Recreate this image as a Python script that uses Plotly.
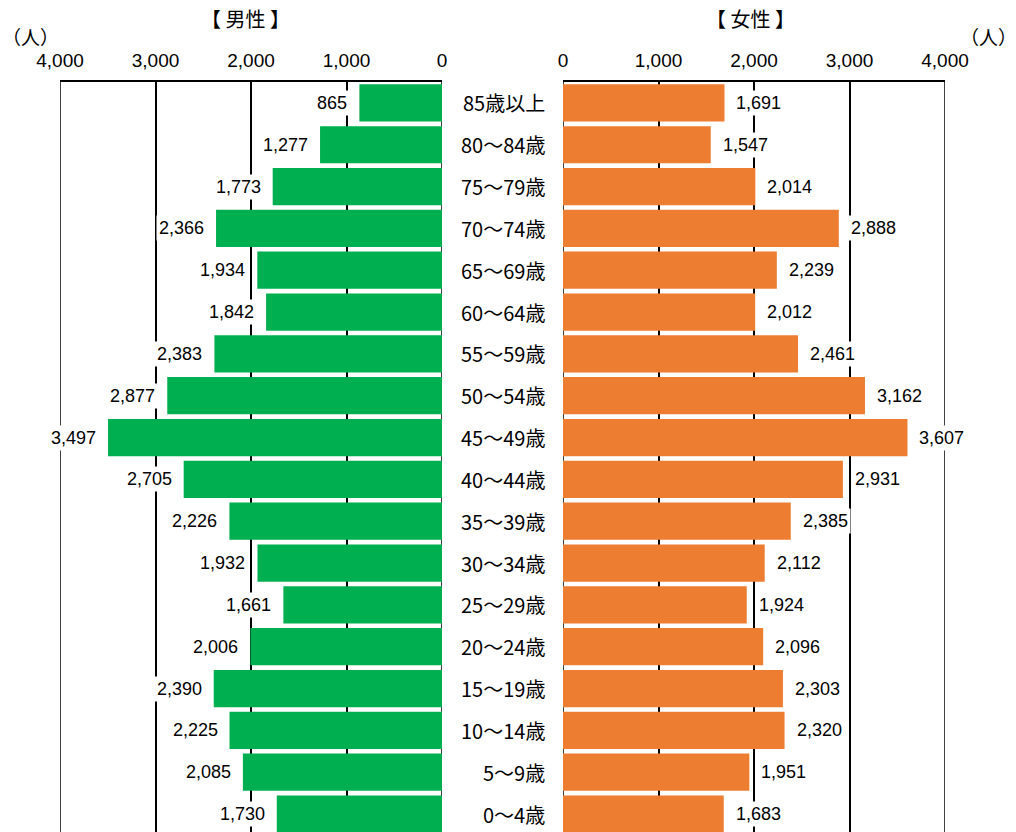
import plotly.graph_objects as go

# Age groups, oldest at the top
age_groups = ["85歳以上", "80～84歳", "75～79歳", "70～74歳", "65～69歳", "60～64歳",
              "55～59歳", "50～54歳", "45～49歳", "40～44歳", "35～39歳", "30～34歳",
              "25～29歳", "20～24歳", "15～19歳", "10～14歳", "5～9歳", "0～4歳"]
male = [865, 1277, 1773, 2366, 1934, 1842, 2383, 2877, 3497, 2705,
        2226, 1932, 1661, 2006, 2390, 2225, 2085, 1730]
female = [1691, 1547, 2014, 2888, 2239, 2012, 2461, 3162, 3607, 2931,
          2385, 2112, 1924, 2096, 2303, 2320, 1951, 1683]
tick_vals = [0, 1000, 2000, 3000, 4000]
tick_text = ["0", "1,000", "2,000", "3,000", "4,000"]

W, H = 1016, 832
TOP = 82
PLOT_H = H - TOP
GREEN = "#00B050"
ORANGE = "#ED7D31"
NUM_FONT = "Liberation Sans, Arial, sans-serif"
JP_FONT = "Noto Sans CJK JP, sans-serif"


def py(pix):
    """Pixel row from the top of the page -> paper y."""
    return (H - pix) / PLOT_H


fig = go.Figure()
fig.add_trace(go.Bar(y=age_groups, x=male, orientation="h", marker_color=GREEN,
                     marker_line_width=0, xaxis="x", yaxis="y", showlegend=False))
fig.add_trace(go.Bar(y=age_groups, x=female, orientation="h", marker_color=ORANGE,
                     marker_line_width=0, xaxis="x2", yaxis="y", showlegend=False))

axis_common = dict(
    tickvals=tick_vals, ticktext=tick_text, side="top", automargin=False,
    showgrid=True, gridcolor="black", gridwidth=1.5, zeroline=False,
    showline=True, linecolor="black", linewidth=1.5, ticks="",
    tickfont=dict(family=NUM_FONT, size=19, color="black"), ticklabelstandoff=6,
)
fig.update_layout(
    width=W, height=H,
    margin=dict(l=0, r=0, t=TOP, b=0, autoexpand=False),
    paper_bgcolor="white", plot_bgcolor="white",
    bargap=0.11,
    xaxis=dict(domain=[60 / W, 442 / W], range=[4000, 0], **axis_common),
    xaxis2=dict(domain=[563 / W, 945 / W], range=[0, 4000], anchor="y", **axis_common),
    yaxis=dict(categoryorder="array", categoryarray=age_groups, automargin=False,
               range=[17.43, -0.5], showticklabels=False, showgrid=False,
               zeroline=False, showline=False),
)

# panel borders at 0 and 4,000 (behind the bars)
for xr in ("x", "x2"):
    for v in (0, 4000):
        fig.add_shape(type="line", xref=xr, yref="paper", x0=v, x1=v, y0=0, y1=1,
                      line=dict(color="black", width=1.5), layer="below")

ann = []
for cat, m, f in zip(age_groups, male, female):
    ann.append(dict(x=m, y=cat, xref="x", yref="y", text=f"{m:,}", showarrow=False,
                    xanchor="right", xshift=-9, bgcolor="white", borderpad=2,
                    font=dict(family=NUM_FONT, size=18, color="black")))
    ann.append(dict(x=f, y=cat, xref="x2", yref="y", text=f"{f:,}", showarrow=False,
                    xanchor="left", xshift=9, bgcolor="white", borderpad=2,
                    font=dict(family=NUM_FONT, size=18, color="black")))
    ann.append(dict(x=547 / W, y=cat, xref="paper", yref="y", text=cat, showarrow=False,
                    xanchor="right", font=dict(family=JP_FONT, size=20, color="black")))

head = dict(xref="paper", yref="paper", showarrow=False, xanchor="center", yanchor="middle")
ann += [
    dict(x=245 / W, y=py(18), text="【 男性 】",
         font=dict(family=JP_FONT, size=20, color="black"), **head),
    dict(x=750 / W, y=py(18), text="【 女性 】",
         font=dict(family=JP_FONT, size=20, color="black"), **head),
    dict(x=30 / W, y=py(36), text="（人）",
         font=dict(family=JP_FONT, size=19, color="black"), **head),
    dict(x=988 / W, y=py(36), text="（人）",
         font=dict(family=JP_FONT, size=19, color="black"), **head),
]
fig.update_layout(annotations=ann)

fig.write_html("out.html")
